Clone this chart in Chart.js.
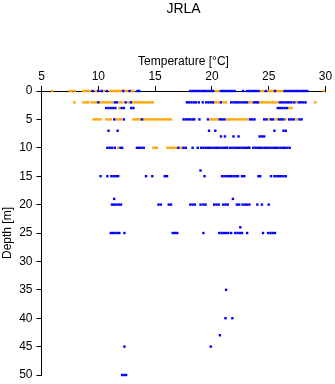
<!DOCTYPE html>
<html lang="en">
<head>
  <meta charset="UTF-8">
  <title>JRLA</title>
  <script src="https://cdn.jsdelivr.net/npm/chart.js"></script>
  <style>
    html, body { margin: 0; padding: 0; background: #ffffff; }
    .chart-box { width: 335px; height: 384px; position: relative; }
  </style>
</head>
<body>
  <div class="chart-box"><canvas id="profile"></canvas></div>

  <script>
    // Temperature readings (deg C) per sampling depth
    const depths = [0, 2, 3, 5, 7, 8, 10, 14, 15, 19, 20, 24, 25, 35, 40, 43, 45, 50];

    const orange_0m = [5.95, 7.5, 7.65, 7.95, 8.65, 8.85, 9.05, 9.25, 9.8, 10.5, 11.05, 11.25, 11.45, 11.65, 11.85, 12.05, 12.25, 12.45, 12.6, 12.9, 13.1, 20.35, 20.55, 24.35, 24.5, 25.0, 25.2, 25.4, 25.6, 25.8, 26.0, 26.2, 29.85];
    const blue_0m = [9.5, 10.0, 10.3, 10.75, 12.2, 12.75, 13.45, 13.6, 18.1, 18.3, 18.5, 18.7, 18.9, 19.1, 19.3, 19.5, 19.7, 19.9, 20.1, 20.8, 21.0, 21.2, 21.4, 21.6, 21.8, 22.0, 22.75, 23.1, 23.3, 23.5, 23.7, 23.9, 24.1, 24.75, 25.55, 26.4, 26.6, 26.8, 27.0, 27.2, 27.4, 27.6, 27.8, 28.0, 28.2, 28.4];

    const orange_2m = [7.9, 8.7, 8.9, 9.1, 9.4, 9.6, 9.8, 10.2, 10.4, 10.6, 10.8, 11.0, 11.2, 11.9, 12.1, 12.6, 13.0, 13.2, 13.4, 13.6, 13.8, 14.0, 14.2, 14.4, 14.6, 14.8, 20.2, 20.4, 20.6, 21.05, 21.25, 23.3, 23.5, 24.2, 24.4, 24.6, 24.8, 25.0, 25.2, 25.4, 25.6, 25.8, 27.45, 29.1];
    const blue_2m = [10.0, 11.45, 11.65, 12.4, 12.85, 17.8, 18.0, 18.2, 18.4, 18.6, 18.85, 19.2, 19.5, 19.7, 19.9, 20.1, 20.8, 21.7, 21.9, 22.1, 22.3, 22.5, 22.7, 22.9, 23.1, 23.7, 23.9, 24.05, 26.0, 26.2, 26.4, 26.6, 26.8, 27.0, 27.25, 27.65, 27.85, 28.05, 28.25];

    const orange_3m = [11.85, 26.8, 27.0];
    const blue_3m = [10.7, 10.9, 11.1, 11.3, 11.5, 12.05, 12.25, 12.9, 13.1, 25.8, 26.0, 26.2, 26.4, 26.6];

    const orange_5m = [9.6, 9.8, 10.0, 10.2, 10.7, 10.9, 11.1, 11.6, 11.8, 12.0, 13.1, 13.3, 13.5, 13.7, 14.0, 14.2, 14.4, 14.6, 14.8, 15.0, 15.2, 15.4, 15.6, 15.8, 16.0, 16.2, 16.4, 19.9, 20.1, 20.3, 20.5, 21.3, 21.5, 21.7, 21.9, 22.1, 22.3, 22.5, 22.7, 22.9, 23.1, 25.0, 25.7, 26.5, 27.45];
    const blue_5m = [11.4, 12.25, 13.85, 17.5, 17.7, 17.9, 18.1, 18.3, 18.45, 18.9, 19.65, 20.7, 20.9, 21.1, 23.35, 23.55, 23.75, 24.6, 24.8, 25.2, 25.4, 25.9, 26.1, 26.3, 26.8, 27.0, 27.2, 27.7, 27.9];

    const blue_7m = [10.9, 11.7, 19.75, 20.3, 25.5, 26.3, 26.5];
    const blue_8m = [20.8, 21.15, 21.9, 22.35, 24.2, 24.4, 24.6];

    const orange_10m = [11.75, 14.85, 15.0, 15.15, 16.1, 16.3, 16.5, 16.7, 16.9, 17.3];
    const blue_10m = [10.8, 11.0, 11.2, 11.45, 11.95, 12.1, 13.4, 13.6, 13.8, 14.0, 17.05, 17.5, 17.7, 18.3, 18.75, 19.05, 19.25, 19.45, 19.65, 19.85, 20.05, 20.25, 20.45, 20.65, 20.85, 21.05, 21.25, 21.35, 21.6, 21.8, 22.0, 22.2, 22.4, 22.6, 22.8, 23.0, 23.2, 23.3, 23.65, 23.85, 24.05, 24.25, 24.45, 24.65, 24.85, 25.05, 25.25, 25.45, 25.65, 25.85, 26.05, 26.25, 26.45, 26.65, 26.85];

    const blue_14m = [19.0];
    const blue_15m = [10.2, 10.8, 11.15, 11.35, 11.55, 11.75, 14.2, 14.75, 15.85, 16.05, 19.35, 20.9, 21.1, 21.3, 21.5, 21.7, 21.9, 22.1, 22.3, 22.65, 22.85, 24.1, 24.25, 25.2, 25.5, 25.7, 25.9, 26.1, 26.3, 26.5];
    const blue_19m = [11.4, 21.85];
    const blue_20m = [11.2, 11.4, 11.6, 11.8, 12.0, 15.3, 15.5, 16.2, 16.4, 18.1, 18.3, 18.5, 19.0, 19.25, 19.45, 20.2, 20.4, 20.6, 21.0, 21.2, 21.4, 22.2, 22.4, 22.7, 22.9, 23.1, 23.3, 24.0, 24.4, 25.0];
    const blue_24m = [22.5];
    const blue_25m = [11.1, 11.3, 11.5, 11.7, 11.85, 12.3, 16.55, 16.75, 16.95, 19.25, 20.65, 20.85, 21.05, 21.25, 21.45, 21.7, 22.05, 22.25, 22.45, 22.65, 23.1, 24.5, 24.95, 25.15, 25.35, 25.55];
    const blue_35m = [21.25];
    const blue_40m = [21.2, 21.8];
    const blue_43m = [20.7];
    const blue_45m = [12.3, 19.9];
    const blue_50m = [12.1, 12.3, 12.45];

    const xTicks = [5, 10, 15, 20, 25, 30];
    const yTicks = [0, 5, 10, 15, 20, 25, 30, 35, 40, 45, 50];

    const orangeRows = [[0, orange_0m], [2, orange_2m], [3, orange_3m], [5, orange_5m], [10, orange_10m]];
    const blueRows = [
      [0, blue_0m], [2, blue_2m], [3, blue_3m], [5, blue_5m], [7, blue_7m], [8, blue_8m],
      [10, blue_10m], [14, blue_14m], [15, blue_15m], [19, blue_19m], [20, blue_20m],
      [24, blue_24m], [25, blue_25m], [35, blue_35m], [40, blue_40m], [43, blue_43m],
      [45, blue_45m], [50, blue_50m]
    ];

    function toPoints(rows) {
      const pts = [];
      rows.forEach(([depth, temps]) => temps.forEach(t => pts.push({ x: t, y: depth })));
      return pts;
    }

    const FONT = '"Liberation Sans", Arial, sans-serif';

    // main title, centred over the plot area like the original
    const mainTitle = {
      id: 'mainTitle',
      afterDraw(chart) {
        const { ctx, chartArea } = chart;
        ctx.save();
        ctx.font = '14px ' + FONT;
        ctx.fillStyle = '#000';
        ctx.textAlign = 'center';
        ctx.textBaseline = 'middle';
        ctx.fillText('JRLA', (chartArea.left + chartArea.right) / 2, 9);
        ctx.restore();
      }
    };

    new Chart(document.getElementById('profile').getContext('2d'), {
      type: 'scatter',
      data: {
        datasets: [
          {
            label: 'blue',
            data: toPoints(blueRows),
            backgroundColor: '#0000ff',
            pointStyle: 'rect',
            pointRadius: 1.7,
            borderWidth: 0,
            clip: false
          },
          {
            label: 'orange',
            data: toPoints(orangeRows),
            backgroundColor: '#ffa500',
            pointStyle: 'rect',
            pointRadius: 1.7,
            borderWidth: 0,
            clip: false
          }
        ]
      },
      options: {
        responsive: true,
        maintainAspectRatio: false,
        animation: false,
        events: [],
        layout: { padding: { top: 0, left: 0, right: 9.5, bottom: 9 } },
        plugins: {
          legend: { display: false },
          tooltip: { enabled: false },
          title: { display: false }
        },
        scales: {
          x: {
            type: 'linear',
            position: 'top',
            min: 5,
            max: 30,
            afterBuildTicks: scale => { scale.ticks = xTicks.map(v => ({ value: v })); },
            afterFit: scale => {
              scale.height = 91;
              scale.paddingLeft = 0;
              scale.paddingRight = 0;
            },
            ticks: { color: '#000', font: { family: FONT, size: 12 }, padding: 2, maxRotation: 0 },
            grid: { display: true, drawOnChartArea: false, drawTicks: true, tickLength: 5, color: '#000' },
            border: { display: true, color: '#000', width: 1 },
            title: {
              display: true,
              text: 'Temperature [°C]',
              color: '#000',
              font: { family: FONT, size: 12 },
              padding: { top: 54.5, bottom: 0 }
            }
          },
          y: {
            type: 'linear',
            position: 'left',
            reverse: true,
            min: 0,
            max: 50,
            afterBuildTicks: scale => { scale.ticks = yTicks.map(v => ({ value: v })); },
            afterFit: scale => {
              scale.width = 41.5;
              scale.paddingTop = 0;
              scale.paddingBottom = 0;
            },
            ticks: { color: '#000', font: { family: FONT, size: 12 }, padding: 4 },
            grid: { display: true, drawOnChartArea: false, drawTicks: true, tickLength: 5, color: '#000' },
            border: { display: true, color: '#000', width: 1 },
            title: {
              display: true,
              text: 'Depth [m]',
              color: '#000',
              font: { family: FONT, size: 12 },
              padding: { top: 0, bottom: 0 }
            }
          }
        }
      },
      plugins: [mainTitle]
    });
  </script>
</body>
</html>
